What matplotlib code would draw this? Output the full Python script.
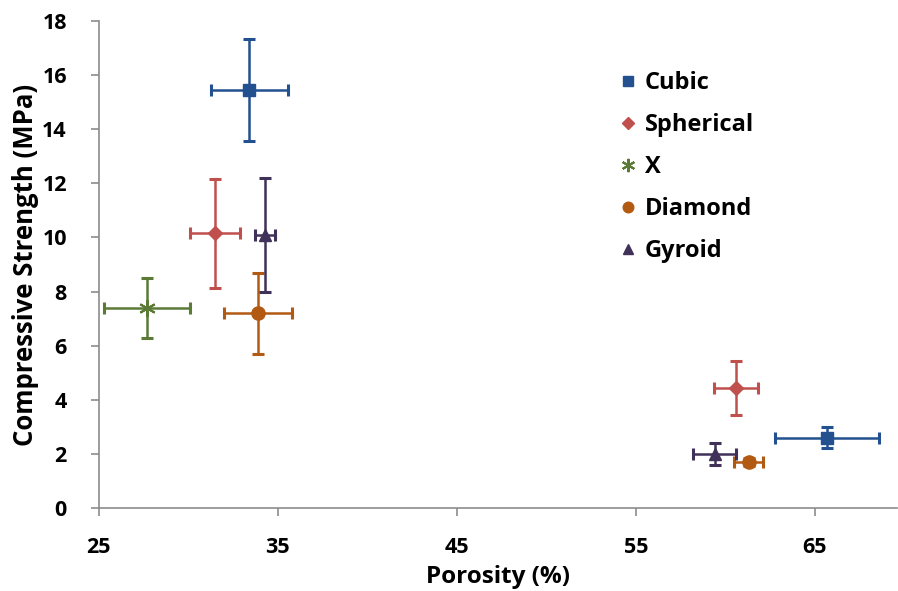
import matplotlib.pyplot as plt
from matplotlib.lines import Line2D

plt.rcParams['font.family'] = ['Open Sans', 'DejaVu Sans']
plt.rcParams['font.weight'] = 'bold'

# Data: porosity (%) and compressive strength (MPa)
names = ["Cubic", "Spherical", "X", "Diamond", "Gyroid"]
porosity = [[33.4, 65.7], [31.5, 60.6], [27.7], [33.9, 61.3], [34.3, 59.4]]
porosity_err = [[2.15, 2.9], [1.4, 1.25], [2.4], [1.9, 0.8], [0.55, 1.2]]
strength = [[15.45, 2.6], [10.15, 4.45], [7.4], [7.2, 1.7], [10.1, 2.0]]
strength_err = [[1.9, 0.4], [2.0, 1.0], [1.1], [1.5, 0.15], [2.1, 0.42]]

colors = ["#23508f", "#c0504d", "#5b7a36", "#b35a12", "#3f3158"]
markers = ["s", "D", (6, 2, 0), "o", "^"]
msizes = [9, 7.5, 12, 9.5, 9]

fig = plt.figure(figsize=(8.98, 5.91), dpi=100)
ax = fig.add_axes([0.110, 0.1404, 0.889, 0.8241])

handles = []
for i in range(len(names)):
    ax.errorbar(porosity[i], strength[i], xerr=porosity_err[i], yerr=strength_err[i],
                fmt="none", ecolor=colors[i], elinewidth=1.8, capsize=4, capthick=2.2)
    ax.plot(porosity[i], strength[i], linestyle="none", marker=markers[i],
            markersize=msizes[i], color=colors[i], markeredgewidth=1.5 if i == 2 else 1)
    handles.append(Line2D([], [], linestyle="none", marker=markers[i],
                          markersize=msizes[i] * 0.8, color=colors[i],
                          markeredgewidth=1.5 if i == 2 else 1))

ax.set_xlim(25, 69.6)
ax.set_ylim(0, 18)
ax.set_xticks([25, 35, 45, 55, 65])
ax.set_yticks(range(0, 19, 2))

for s in ["top", "right"]:
    ax.spines[s].set_visible(False)
for s in ["left", "bottom"]:
    ax.spines[s].set_color("#8c8c8c")
    ax.spines[s].set_linewidth(1.2)
ax.tick_params(axis="both", direction="out", length=6, width=1.2, color="#8c8c8c",
               labelsize=15.5)
ax.tick_params(axis="y", pad=17)
ax.tick_params(axis="x", pad=15)

ax.set_xlabel("Porosity (%)", fontsize=17.5, fontweight="bold", labelpad=5)
ax.set_ylabel("Compressive Strength (MPa)", fontsize=18.5, fontweight="bold", labelpad=2)

ax.legend(handles, names, loc="upper left", bbox_to_anchor=(0.626, 0.94), frameon=False,
          handlelength=0.7, handletextpad=0.35, labelspacing=0.76,
          prop={"weight": "bold", "size": 17})

fig.savefig("out.png", dpi=100, facecolor="white")
